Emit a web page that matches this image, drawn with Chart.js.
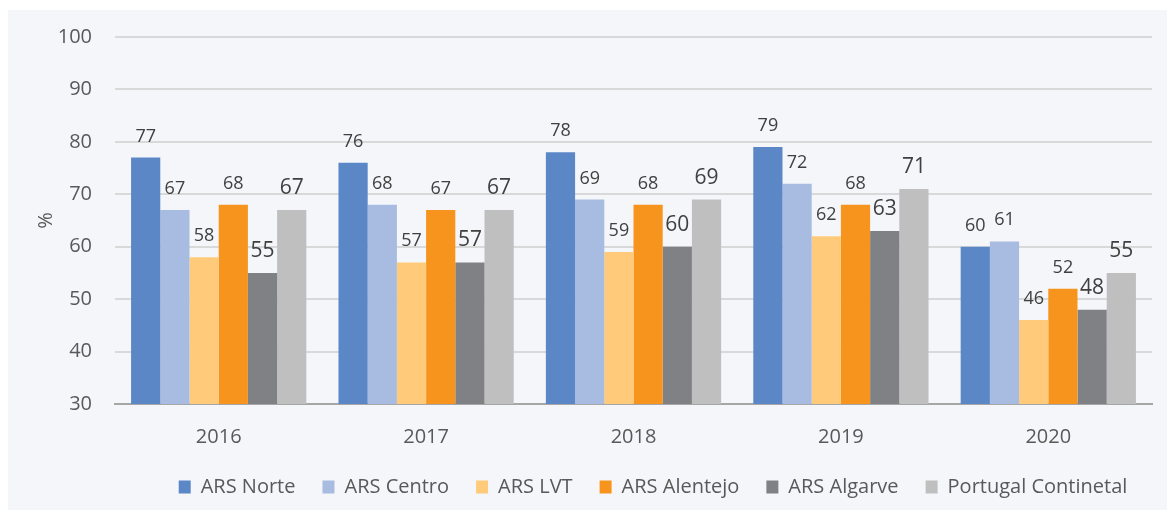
<!DOCTYPE html>
<html>
<head>
<meta charset="utf-8">
<script src="https://cdn.jsdelivr.net/npm/chart.js@4.4.0/dist/chart.umd.min.js"></script>
<style>
  body { margin: 0; background: #ffffff; }
  #panel { position: absolute; left: 8px; top: 10px; width: 1159px; height: 500px; background: #f5f6fa; }
</style>
</head>
<body>
<div id="panel"><canvas id="chart" width="1159" height="500"></canvas></div>
<script>
// Values
const years = ["2016", "2017", "2018", "2019", "2020"];
const regions = ["ARS Norte", "ARS Centro", "ARS LVT", "ARS Alentejo", "ARS Algarve", "Portugal Continetal"];
const norte = [77, 76, 78, 79, 60];
const centro = [67, 68, 69, 72, 61];
const lvt = [58, 57, 59, 62, 46];
const alentejo = [68, 67, 68, 68, 52];
const algarve = [55, 57, 60, 63, 48];
const continente = [67, 67, 69, 71, 55];
const yTicks = [30, 40, 50, 60, 70, 80, 90, 100];

const colors = ['#5b87c6', '#a8bbe1', '#ffcb7a', '#f7941e', '#808184', '#bfbfbf'];
const seriesData = [norte, centro, lvt, alentejo, algarve, continente];

// value labels above each bar (bigger for the last two series, like the original)
const barLabels = {
    id: 'barLabels',
    afterDatasetsDraw(chart) {
        const ctx = chart.ctx;
        ctx.save();
        ctx.fillStyle = '#404040';
        ctx.textAlign = 'center';
        ctx.textBaseline = 'alphabetic';
        chart.data.datasets.forEach((ds, i) => {
            const size = i >= 4 ? 21 : 18;
            ctx.font = size + 'px "Open Sans"';
            chart.getDatasetMeta(i).data.forEach((bar, j) => {
                ctx.fillText(String(ds.data[j]), bar.x, bar.y - 16);
            });
        });
        ctx.restore();
    }
};

// fixed legend height and shift to the right, as in the original
const legendTweak = {
    id: 'legendTweak',
    afterInit(chart) {
        const legend = chart.legend;
        const fit = legend.fit;
        legend.fit = function () {
            fit.call(this);
            this.height = 60;
        };
    },
    afterLayout(chart) {
        chart.legend.left += 73;
        chart.legend.right += 73;
    }
};

new Chart(document.getElementById('chart'), {
    type: 'bar',
    data: {
        labels: years,
        datasets: regions.map((name, i) => ({
            label: name,
            data: seriesData[i],
            backgroundColor: colors[i],
            borderWidth: 0,
            categoryPercentage: 0.845,
            barPercentage: 1
        }))
    },
    options: {
        responsive: false,
        animation: false,
        layout: { padding: { top: 27, right: 15, bottom: 0, left: 0 } },
        plugins: {
            tooltip: { enabled: false },
            legend: {
                position: 'bottom',
                labels: {
                    boxWidth: 12,
                    boxHeight: 13,
                    padding: 27,
                    color: '#595959',
                    font: { family: 'Open Sans', size: 20 }
                }
            }
        },
        scales: {
            x: {
                grid: { display: false },
                border: { color: '#a6a6a6', width: 2 },
                ticks: { color: '#595959', padding: 13, font: { family: 'Open Sans', size: 20 } },
                afterFit(scale) { scale.height = 46; }
            },
            y: {
                min: 30,
                max: 100,
                afterBuildTicks(scale) { scale.ticks = yTicks.map(v => ({ value: v })); },
                grid: { color: '#d9d9d9', lineWidth: 2, drawTicks: false },
                border: { display: false },
                ticks: { color: '#595959', padding: 23, font: { family: 'Open Sans', size: 20 } },
                title: {
                    display: true,
                    text: '%',
                    color: '#595959',
                    font: { family: 'Open Sans', size: 20 },
                    padding: { top: 26, bottom: 0 }
                },
                afterFit(scale) {
                    scale.width = 107;
                    scale.paddingTop = 0;
                    scale.paddingBottom = 0;
                }
            }
        }
    },
    plugins: [barLabels, legendTweak]
});
</script>
</body>
</html>
